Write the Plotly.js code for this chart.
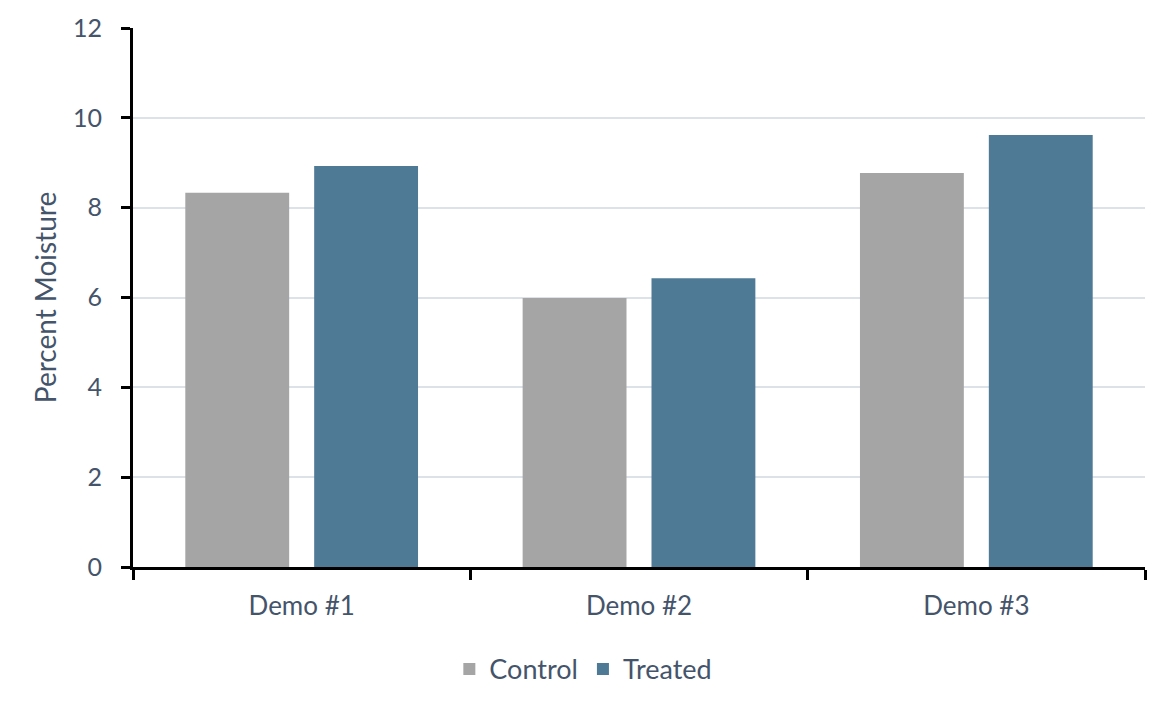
<!DOCTYPE html>
<html>
<head>
<meta charset="utf-8">
<script src="https://cdn.plot.ly/plotly-3.0.1.min.js"></script>
<style>html,body{margin:0;padding:0;background:#fff;}#chart{width:1171px;height:701px;}</style>
</head>
<body>
<div id="chart"></div>
<script>
const categories = ["Demo #1", "Demo #2", "Demo #3"];
const controlValues = [8.33, 5.99, 8.77];
const treatedValues = [8.93, 6.43, 9.62];
const yTickValues = [0, 2, 4, 6, 8, 10, 12];

const textColor = "#44546A";
const fontFamily = "Lato, 'Open Sans', sans-serif";

const traces = [
  {type: "bar", name: "Control", x: categories, y: controlValues, marker: {color: "#A5A5A5"}},
  {type: "bar", name: "Treated", x: categories, y: treatedValues, marker: {color: "#4E7A96"}}
];

const layout = {
  width: 1171, height: 701,
  margin: {l: 133, r: 26, t: 28, b: 134, autoexpand: false},
  paper_bgcolor: "#fff", plot_bgcolor: "#fff",
  barmode: "group", bargap: 0.236, bargroupgap: 0.194,
  font: {family: fontFamily, color: textColor, size: 24},
  showlegend: true,
  legend: {orientation: "h", x: 0.445, xanchor: "center", y: -0.19, yanchor: "middle",
           font: {size: 27, color: textColor}, itemwidth: 30, tracegroupgap: 0},
  xaxis: {
    type: "category", tickson: "boundaries",
    ticks: "outside", ticklen: 10, tickwidth: 3, tickcolor: "#000",
    showline: true, linecolor: "#000", linewidth: 3,
    showgrid: false, tickfont: {size: 26, color: textColor},
    ticklabelstandoff: 14, automargin: false
  },
  yaxis: {
    range: [0, 12], tickvals: yTickValues, ticktext: yTickValues.map(String),
    ticks: "outside", ticklen: 9, tickwidth: 3, tickcolor: "#000",
    showline: true, linecolor: "#000", linewidth: 3,
    showgrid: true, gridcolor: "#DDE2E8", gridwidth: 2,
    zeroline: false, tickfont: {size: 25, color: textColor},
    ticklabelstandoff: 14, automargin: false,
    title: {text: "Percent Moisture", font: {size: 28, color: textColor}, standoff: 9}
  }
};

Plotly.newPlot("chart", traces, layout, {displayModeBar: false, staticPlot: true});
</script>
</body>
</html>
